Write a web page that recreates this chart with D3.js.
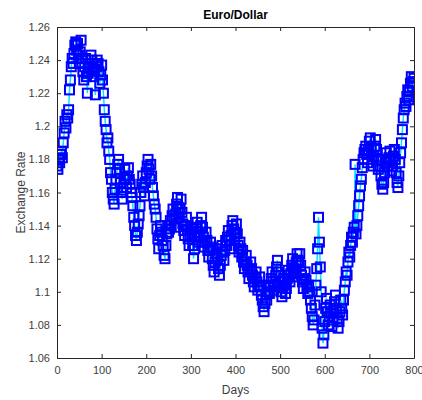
<!DOCTYPE html>
<html>
<head>
<meta charset="utf-8">
<script src="https://d3js.org/d3.v7.min.js"></script>
<style>
  html, body { margin: 0; padding: 0; background: #fff; }
  svg { display: block; }
</style>
</head>
<body>
<svg id="chart" width="422" height="400"></svg>
<script>
// Exchange rate sampled every 2 trading days (day 0 .. 800)
const dayStep = 2;
const rates = [
  // days 0-26
  1.176, 1.174, 1.180, 1.178, 1.183, 1.185, 1.181, 1.190, 1.196, 1.203, 1.199, 1.207, 1.205, 1.210,
  // days 28-40
  1.222, 1.228, 1.236, 1.241, 1.238, 1.244, 1.249,
  // days 42-56
  1.251, 1.246, 1.250, 1.243, 1.238, 1.245, 1.252, 1.241,
  // days 58-100
  1.233, 1.228, 1.236, 1.241, 1.230, 1.220, 1.232, 1.238, 1.235, 1.243, 1.240, 1.236, 1.230, 1.234, 1.219, 1.236, 1.240, 1.238, 1.233, 1.226, 1.231, 1.237,
  // days 102-130
  1.228, 1.220, 1.210, 1.203, 1.198, 1.190, 1.193, 1.185, 1.180, 1.172, 1.168, 1.160, 1.156, 1.153, 1.162,
  // days 132-160
  1.168, 1.172, 1.177, 1.180, 1.174, 1.166, 1.160, 1.156, 1.163, 1.168, 1.174, 1.168, 1.163, 1.170, 1.175,
  // days 162-200
  1.168, 1.165, 1.160, 1.157, 1.152, 1.145, 1.140, 1.134, 1.131, 1.136, 1.141, 1.146, 1.152, 1.160, 1.165, 1.170, 1.163, 1.158, 1.166, 1.172,
  // days 202-220
  1.176, 1.180, 1.174, 1.168, 1.177, 1.170, 1.163, 1.158, 1.153, 1.150,
  // days 222-250
  1.145, 1.138, 1.132, 1.126, 1.134, 1.140, 1.136, 1.131, 1.128, 1.122, 1.120, 1.128, 1.135, 1.140, 1.136,
  // days 252-300
  1.138, 1.143, 1.140, 1.146, 1.150, 1.144, 1.139, 1.147, 1.153, 1.157, 1.151, 1.145, 1.150, 1.156, 1.148, 1.141, 1.137, 1.134, 1.140, 1.145, 1.138, 1.132, 1.128, 1.134, 1.139,
  // days 302-340
  1.135, 1.128, 1.120, 1.126, 1.133, 1.138, 1.142, 1.136, 1.130, 1.134, 1.140, 1.145, 1.139, 1.133, 1.127, 1.130, 1.136, 1.131, 1.125, 1.121,
  // days 342-380
  1.125, 1.130, 1.127, 1.120, 1.116, 1.112, 1.118, 1.123, 1.126, 1.120, 1.114, 1.110, 1.116, 1.122, 1.128, 1.124, 1.119, 1.125, 1.131, 1.128,
  // days 382-420
  1.133, 1.137, 1.131, 1.126, 1.134, 1.140, 1.143, 1.138, 1.132, 1.136, 1.141, 1.135, 1.128, 1.124, 1.130, 1.126, 1.121, 1.125, 1.118, 1.114,
  // days 422-460
  1.118, 1.122, 1.116, 1.112, 1.108, 1.113, 1.118, 1.114, 1.110, 1.106, 1.103, 1.108, 1.112, 1.106, 1.101, 1.104, 1.109, 1.103, 1.098, 1.095,
  // days 462-500
  1.091, 1.088, 1.093, 1.098, 1.095, 1.100, 1.104, 1.099, 1.103, 1.108, 1.112, 1.106, 1.101, 1.104, 1.110, 1.115, 1.119, 1.112, 1.106, 1.103,
  // days 502-540
  1.100, 1.097, 1.103, 1.108, 1.104, 1.099, 1.102, 1.108, 1.113, 1.110, 1.106, 1.111, 1.116, 1.120, 1.114, 1.109, 1.112, 1.118, 1.123, 1.119,
  // days 542-566
  1.118, 1.123, 1.116, 1.110, 1.106, 1.102, 1.108, 1.112, 1.107, 1.103, 1.099, 1.104, 1.100,
  // days 568-584
  1.095, 1.090, 1.085, 1.080, 1.083, 1.092, 1.104, 1.114, 1.126,
  // days 586-604
  1.145, 1.130, 1.115, 1.100, 1.078, 1.069, 1.074, 1.082, 1.090, 1.096,
  // days 606-640
  1.088, 1.080, 1.085, 1.092, 1.087, 1.079, 1.083, 1.089, 1.094, 1.098, 1.090, 1.084, 1.078, 1.082, 1.088, 1.095, 1.090, 1.086,
  // days 642-666
  1.095, 1.101, 1.106, 1.112, 1.110, 1.118, 1.124, 1.121, 1.128, 1.133, 1.130, 1.136, 1.139,
  // days 668-690
  1.177, 1.135, 1.140, 1.146, 1.152, 1.158, 1.164, 1.168, 1.175, 1.180, 1.184, 1.186,
  // days 692-730
  1.188, 1.183, 1.178, 1.185, 1.191, 1.193, 1.187, 1.180, 1.176, 1.182, 1.188, 1.192, 1.186, 1.179, 1.174, 1.180, 1.176, 1.170, 1.165, 1.162,
  // days 732-766
  1.166, 1.172, 1.178, 1.184, 1.180, 1.176, 1.181, 1.185, 1.179, 1.173, 1.176, 1.182, 1.186, 1.180, 1.172, 1.166, 1.163, 1.170,
  // days 768-786
  1.178, 1.184, 1.190, 1.198, 1.205, 1.210, 1.214, 1.212, 1.218, 1.222,
  // days 788-800
  1.216, 1.221, 1.226, 1.230, 1.224, 1.227, 1.229
];
const xTicks = [0, 100, 200, 300, 400, 500, 600, 700, 800];
const yTicks = [1.06, 1.08, 1.10, 1.12, 1.14, 1.16, 1.18, 1.20, 1.22, 1.24, 1.26];
const titleText = "Euro/Dollar";
const xLabel = "Days";
const yLabel = "Exchange Rate";

(function () {
const data = rates.map((v, i) => ({ day: i * dayStep, value: v }));

const margin = { left: 57, right: 8, top: 27, bottom: 42 };
const W = 422, H = 400;
const svg = d3.select("#chart");
const x = d3.scaleLinear().domain([0, 800]).range([margin.left, W - margin.right]);
const y = d3.scaleLinear().domain([1.06, 1.26]).range([H - margin.bottom, margin.top]);

const fmt = d => String(+d.toFixed(2));
const font = "Arial, 'Liberation Sans', sans-serif";
const axisColor = "#262626";
const tickColor = "#404040";

svg.append("defs").append("clipPath").attr("id", "clip")
  .append("rect").attr("x", margin.left).attr("y", margin.top)
  .attr("width", W - margin.left - margin.right).attr("height", H - margin.top - margin.bottom);

const plot = svg.append("g").attr("clip-path", "url(#clip)");

plot.append("path")
  .datum(data)
  .attr("fill", "none")
  .attr("stroke", "#00e5ff")
  .attr("stroke-width", 1.5)
  .attr("d", d3.line().x(d => x(d.day)).y(d => y(d.value)));

const ms = 9;
plot.append("g").selectAll("rect")
  .data(data)
  .join("rect")
  .attr("x", d => x(d.day) - ms / 2)
  .attr("y", d => y(d.value) - ms / 2)
  .attr("width", ms)
  .attr("height", ms)
  .attr("fill", "none")
  .attr("stroke", "#0000ff")
  .attr("stroke-width", 2);

function styleAxis(g, showLabels) {
  g.select(".domain").attr("stroke", axisColor).attr("stroke-width", 1);
  g.selectAll(".tick line").attr("stroke", axisColor).attr("stroke-width", 1);
  g.selectAll(".tick text").attr("fill", tickColor).attr("font-family", font).attr("font-size", 11);
  if (!showLabels) g.selectAll(".tick text").remove();
}

const gBottom = svg.append("g").attr("transform", `translate(0,${H - margin.bottom})`)
  .call(d3.axisBottom(x).tickValues(xTicks).tickSizeInner(-4).tickSizeOuter(0).tickPadding(8));
styleAxis(gBottom, true);
const gTop = svg.append("g").attr("transform", `translate(0,${margin.top})`)
  .call(d3.axisTop(x).tickValues(xTicks).tickSizeInner(-4).tickSizeOuter(0));
styleAxis(gTop, false);
const gLeft = svg.append("g").attr("transform", `translate(${margin.left},0)`)
  .call(d3.axisLeft(y).tickValues(yTicks).tickFormat(fmt).tickSizeInner(-4).tickSizeOuter(0).tickPadding(7));
styleAxis(gLeft, true);
const gRight = svg.append("g").attr("transform", `translate(${W - margin.right},0)`)
  .call(d3.axisRight(y).tickValues(yTicks).tickSizeInner(-4).tickSizeOuter(0));
styleAxis(gRight, false);

svg.append("text")
  .attr("x", (margin.left + W - margin.right) / 2).attr("y", 19)
  .attr("text-anchor", "middle").attr("font-family", font)
  .attr("font-size", 12).attr("font-weight", "bold").attr("fill", "#000")
  .text(titleText);

svg.append("text")
  .attr("x", (margin.left + W - margin.right) / 2).attr("y", 394)
  .attr("text-anchor", "middle").attr("font-family", font)
  .attr("font-size", 12).attr("fill", tickColor)
  .text(xLabel);

svg.append("text")
  .attr("transform", `translate(25,${(margin.top + H - margin.bottom) / 2}) rotate(-90)`)
  .attr("text-anchor", "middle").attr("font-family", font)
  .attr("font-size", 12).attr("fill", tickColor)
  .text(yLabel);
})();
</script>
</body>
</html>
